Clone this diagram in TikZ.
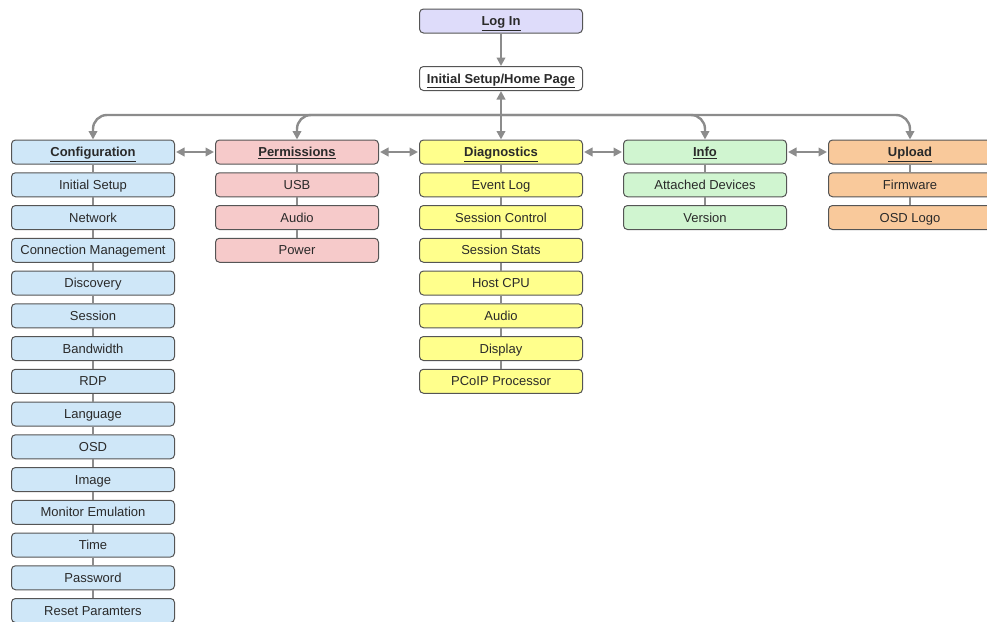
\documentclass[tikz,border=0pt]{standalone}
\usepackage{fontspec}
\setmainfont{Liberation Sans}
\usetikzlibrary{arrows.meta}
\definecolor{cblue}{HTML}{CFE7F8}
\definecolor{cred}{HTML}{F6CACA}
\definecolor{cyel}{HTML}{FFFF8C}
\definecolor{cgreen}{HTML}{D0F5D0}
\definecolor{corange}{HTML}{F9C99B}
\definecolor{cpurple}{HTML}{DEDCFA}
\definecolor{bline}{HTML}{555555}
\definecolor{conn}{HTML}{8C8C8C}
\definecolor{txt}{HTML}{2A2A2A}
\tikzset{
  box/.style={draw=bline, line width=1pt, rounded corners=4pt, minimum width=163pt,
    minimum height=24pt, inner sep=0pt, text height=11pt, text depth=1.7pt,
    text=txt, font=\fontsize{13}{15}\selectfont},
  hdr/.style={box, font=\fontsize{13}{15}\selectfont\bfseries},
  arr/.style={draw=conn, line width=2.4pt, -{Triangle[length=8.5pt,width=8.5pt]}},
  darr/.style={draw=conn, line width=2.4pt, {Triangle[length=8.5pt,width=8.5pt]}-{Triangle[length=8.5pt,width=8.5pt]}},
  link/.style={draw=conn, line width=1.2pt}
}
\newcommand{\hd}[1]{\smash{\underline{#1}}}
\begin{document}
\begin{tikzpicture}[x=1pt,y=-1pt]
\useasboundingbox (0,0) rectangle (987,621);
\clip (0,0) rectangle (987,621);
% top
\node[hdr, fill=cpurple] (login) at (501,21) {\hd{Log In}};
\node[hdr, fill=white] (home) at (501,78.5) {\hd{Initial Setup/Home Page}};
% headers
\node[hdr, fill=cblue] (c0) at (93,152) {\hd{Configuration}};
\node[hdr, fill=cred] (p0) at (297,152) {\hd{Permissions}};
\node[hdr, fill=cyel] (d0) at (501,152) {\hd{Diagnostics}};
\node[hdr, fill=cgreen] (i0) at (705,152) {\hd{Info}};
\node[hdr, fill=corange] (u0) at (910,152) {\hd{Upload}};
% configuration
\foreach \t [count=\k] in {Initial Setup,Network,Connection Management,Discovery,Session,Bandwidth,RDP,Language,OSD,Image,Monitor Emulation,Time,Password,Reset Paramters}
  \node[box, fill=cblue] (c\k) at (93,152+\k*32.75) {\t};
\foreach \t [count=\k] in {USB,Audio,Power}
  \node[box, fill=cred] (p\k) at (297,152+\k*32.75) {\t};
\foreach \t [count=\k] in {Event Log,Session Control,Session Stats,Host CPU,Audio,Display,PCoIP Processor}
  \node[box, fill=cyel] (d\k) at (501,152+\k*32.75) {\t};
\foreach \t [count=\k] in {Attached Devices,Version}
  \node[box, fill=cgreen] (i\k) at (705,152+\k*32.75) {\t};
\foreach \t [count=\k] in {Firmware,OSD Logo}
  \node[box, fill=corange] (u\k) at (910,152+\k*32.75) {\t};
% vertical links
\foreach \a/\b in {c0/c1,c1/c2,c2/c3,c3/c4,c4/c5,c5/c6,c6/c7,c7/c8,c8/c9,c9/c10,c10/c11,c11/c12,c12/c13,c13/c14,
  p0/p1,p1/p2,p2/p3,d0/d1,d1/d2,d2/d3,d3/d4,d4/d5,d5/d6,d6/d7,i0/i1,i1/i2,u0/u1,u1/u2}
  \draw[link] (\a) -- (\b);
% top arrows
\draw[arr] (login) -- (home);
\draw[darr] (home) -- (d0);
\coordinate (bus) at (501,115);
\foreach \n in {c0,p0,i0,u0}
  \draw[arr, rounded corners=14pt] (bus) -| (\n.north);
% horizontal arrows
\draw[darr, shorten <=1pt, shorten >=1pt] (c0) -- (p0);
\draw[darr, shorten <=1pt, shorten >=1pt] (p0) -- (d0);
\draw[darr, shorten <=1pt, shorten >=1pt] (d0) -- (i0);
\draw[darr, shorten <=1pt, shorten >=1pt] (i0) -- (u0);
\end{tikzpicture}
\end{document}
